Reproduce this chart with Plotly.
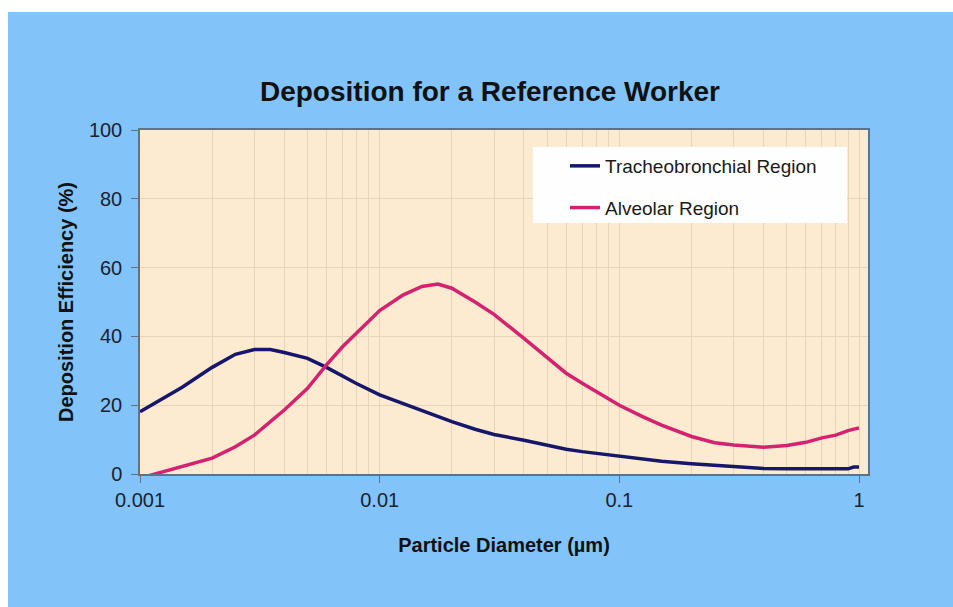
import plotly.graph_objects as go

# ---- data ----
diameter_um = [0.001, 0.0015, 0.002, 0.0025, 0.003, 0.0035, 0.004, 0.005, 0.006, 0.007,
               0.008, 0.01, 0.0125, 0.015, 0.0175, 0.02, 0.025, 0.03, 0.04, 0.05,
               0.06, 0.07, 0.08, 0.1, 0.125, 0.15, 0.2, 0.25, 0.3, 0.4,
               0.5, 0.6, 0.7, 0.8, 0.9, 0.95, 1.0]
tracheobronchial = [18.1, 25.2, 31.0, 34.8, 36.2, 36.2, 35.3, 33.6, 31.0, 28.5,
                    26.3, 23.0, 20.5, 18.3, 16.5, 15.2, 13.0, 11.5, 9.8, 8.3,
                    7.2, 6.5, 6.0, 5.0, 4.3, 3.7, 3.0, 2.5, 2.1, 1.6,
                    1.5, 1.5, 1.5, 1.5, 1.5, 2.0, 2.0]
alveolar = [-1.2, 2.1, 4.6, 7.9, 11.3, 15.2, 18.6, 24.9, 31.7, 37.0,
            40.9, 47.5, 52.0, 54.5, 55.2, 54.0, 50.0, 46.4, 39.4, 33.9,
            29.3, 26.4, 23.9, 20.0, 16.7, 14.2, 10.9, 9.1, 8.4, 7.8,
            8.3, 9.2, 10.5, 11.3, 12.6, 13.0, 13.4]
series_names = ["Tracheobronchial Region", "Alveolar Region"]
x_tick_vals = [0.001, 0.01, 0.1, 1]
x_tick_text = ["0.001", "0.01", "0.1", "1"]
y_tick_vals = [0, 20, 40, 60, 80, 100]

# ---- layout geometry ----
W, H = 953, 607
ML, MR, MT, MB = 140, W - 868, 130, H - 474
PW, PH = W - ML - MR, H - MT - MB

def px_x(p):
    return (p - ML) / PW

def px_y(p):
    return (H - MB - p) / PH

BLUE = "#82C4FA"
PLOT_BG = "#FCEBD1"
GRID = "#E6D5B8"
AXIS = "#5F7384"
FONT = "Liberation Sans, Arial, sans-serif"

minor_vals = [m * 10 ** e for e in (-3, -2, -1) for m in range(2, 10)]

fig = go.Figure()
fig.add_trace(go.Scatter(x=diameter_um, y=tracheobronchial, mode="lines",
                         name=series_names[0], legendgroup="tb",
                         line=dict(color="#16166A", width=3.5)))
fig.add_trace(go.Scatter(x=diameter_um, y=alveolar, mode="lines",
                         name=series_names[1], legendgroup="al",
                         line=dict(color="#D42270", width=3.5)))

fig.update_layout(
    width=W, height=H,
    margin=dict(l=ML, r=MR, t=MT, b=MB, pad=0),
    paper_bgcolor=BLUE, plot_bgcolor=PLOT_BG,
    font=dict(family=FONT, color="#1A2230"),
    title=dict(text="<b>Deposition for a Reference Worker</b>",
               x=490 / W, xref="container", xanchor="center",
               y=1 - 91 / H, yref="container", yanchor="middle",
               font=dict(size=28, color="#111111", family=FONT)),
    showlegend=True,
    legend=dict(x=px_x(565), y=px_y(147), xanchor="left", yanchor="top",
                bgcolor="rgba(0,0,0,0)", borderwidth=0,
                font=dict(size=19, color="#1A1A1A", family=FONT),
                tracegroupgap=14),
    shapes=[
        # white page edges
        dict(type="rect", xref="paper", yref="paper", layer="below",
             x0=px_x(-5), x1=px_x(W + 5), y0=px_y(12), y1=px_y(-5),
             fillcolor="white", line=dict(width=0)),
        dict(type="rect", xref="paper", yref="paper", layer="below",
             x0=px_x(-5), x1=px_x(8), y0=px_y(H + 5), y1=px_y(-5),
             fillcolor="white", line=dict(width=0)),
        # legend box
        dict(type="rect", xref="paper", yref="paper", layer="above",
             x0=px_x(533), x1=px_x(847), y0=px_y(223), y1=px_y(147),
             fillcolor="#FEFEFE", line=dict(width=0)),
    ],
)

fig.update_xaxes(
    type="log", range=[-3, 0.0375],
    tickvals=x_tick_vals, ticktext=x_tick_text,
    ticks="outside", ticklen=7, tickwidth=1.2, tickcolor=AXIS,
    showline=True, linecolor=AXIS, linewidth=1.5, mirror=True,
    showgrid=True, gridcolor=GRID, gridwidth=1,
    minor=dict(tickvals=minor_vals, showgrid=True, gridcolor=GRID, gridwidth=1, ticks=""),
    tickfont=dict(size=20),
    title=dict(text="<b>Particle Diameter (µm)</b>", font=dict(size=20, color="#111111"),
               standoff=28),
    zeroline=False,
)
fig.update_yaxes(
    range=[0, 100], tickvals=y_tick_vals,
    ticks="outside", ticklen=7, tickwidth=1.2, tickcolor=AXIS,
    showline=True, linecolor=AXIS, linewidth=1.5, mirror=True,
    showgrid=True, gridcolor=GRID, gridwidth=1,
    tickfont=dict(size=20), ticklabelstandoff=5,
    title=dict(text="<b>Deposition Efficiency (%)</b>", font=dict(size=20, color="#111111"),
               standoff=10),
    zeroline=False,
)

fig.write_html("out.html",
               config={"displayModeBar": False},
               post_script="document.body.style.margin='0px';document.body.style.overflow='hidden';")
